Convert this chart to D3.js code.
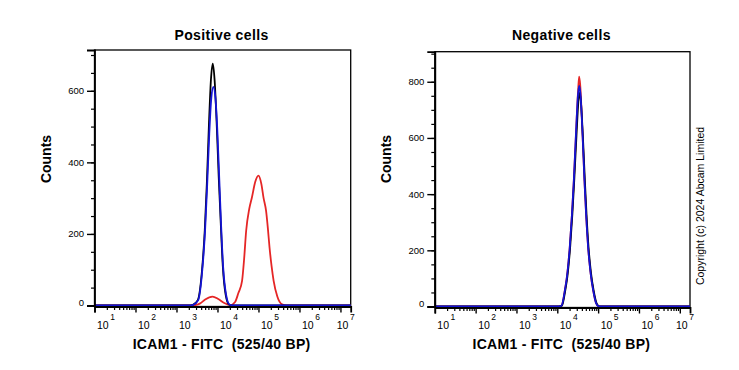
<!DOCTYPE html>
<html>
<head>
<meta charset="utf-8">
<script src="https://cdn.jsdelivr.net/npm/d3@7"></script>
<style>
  body { margin: 0; background: #fff; }
  svg { display: block; font-family: Arial, "Liberation Sans", sans-serif; }
</style>
</head>
<body>
<div id="chart"></div>
<script>
// histogram traces: fluorescence in decades (log10) and event counts
// Positive cells
var posBlackLog   = [1.0, 3.30, 3.40, 3.52, 3.62, 3.69, 3.74, 3.79, 3.84, 3.885, 3.93, 3.98, 4.03, 4.08, 4.13, 4.20, 4.28, 4.38, 7.25];
var posBlackCount = [0,   0,    2,    15,   95,   210,  340,  500,  630,  676,   630,  510,  360,  230,  110,  30,   3,    0,    0];

var posBlueLog    = [1.0, 3.30, 3.41, 3.53, 3.63, 3.70, 3.75, 3.80, 3.85, 3.90, 3.95, 4.00, 4.045, 4.09, 4.14, 4.21, 4.29, 4.39, 7.25];
var posBlueCount  = [0,   0,    2,    15,   100,  215,  340,  480,  580,  611,  580,  480,  350,   220,  105,  30,   3,    0,    0];

var posRedLog     = [1.0, 3.40, 3.46, 3.58, 3.70, 3.88, 4.02, 4.165, 4.31, 4.43, 4.51, 4.60, 4.65, 4.70, 4.775, 4.84, 4.92, 5.00, 5.07, 5.125, 5.185, 5.23, 5.27, 5.32, 5.37, 5.46, 5.575, 5.68, 7.25];
var posRedCount   = [0,   0,    1,    6,    17,   25,   18,   7,     1,    10,   35,   69,   130,  209,  270,   302,  345,  363,  340,  300,   265,   215,  162,  110,  69,   25,   3,     0,    0];

// Negative cells
var negRedLog     = [1.0, 4.00, 4.07, 4.105, 4.185, 4.24, 4.305, 4.36, 4.405, 4.46, 4.51, 4.535, 4.56, 4.61, 4.665, 4.705, 4.755, 4.815, 4.88, 4.95, 5.00, 5.05, 7.25];
var negRedCount   = [0,   0,    1,    3,     57,    110,  211,   330,  449,   620,  770,  818,   790,  640,  449,   330,   211,   120,   57,   12,   2,    0,    0];

var negBlackLog   = [1.0, 4.00, 4.08, 4.115, 4.195, 4.25, 4.315, 4.37, 4.415, 4.47, 4.52, 4.55, 4.575, 4.625, 4.675, 4.715, 4.765, 4.825, 4.89, 4.96, 5.01, 5.06, 7.25];
var negBlackCount = [0,   0,    1,    3,     57,    110,  211,   330,  449,   610,  735,  760,   735,  610,  449,   330,   211,   120,   57,   12,   2,    0,    0];

var negBlueLog    = [1.0, 4.00, 4.07, 4.105, 4.185, 4.24, 4.305, 4.36, 4.405, 4.46, 4.51, 4.54, 4.565, 4.615, 4.665, 4.705, 4.755, 4.815, 4.88, 4.95, 5.00, 5.05, 7.25];
var negBlueCount  = [0,   0,    1,    3,     57,    110,  211,   330,  449,   625,  760,  785,   760,  625,  449,   330,   211,   120,   57,   12,   2,    0,    0];

var decades = [1, 2, 3, 4, 5, 6, 7];
var posYTicks = [0, 200, 400, 600];
var negYTicks = [0, 200, 400, 600, 800];

var titles = ["Positive cells", "Negative cells"];
var xTitle = "ICAM1 - FITC  (525/40 BP)";
var yTitle = "Counts";
var copyright = "Copyright (c) 2024 Abcam Limited";

var width = 739, height = 370;

var svg = d3.select("#chart").append("svg")
    .attr("width", width)
    .attr("height", height);

var red = "#e52626", blue = "#1414d6", black = "#000000";

var panels = [
  {
    title: titles[0], left: 94.5, right: 350.7, top: 50, zero: 305.5, yMax: 714, yTicks: posYTicks,
    traces: [
      { log: posRedLog, count: posRedCount, color: red },
      { log: posBlackLog, count: posBlackCount, color: black },
      { log: posBlueLog, count: posBlueCount, color: blue }
    ]
  },
  {
    title: titles[1], left: 434.8, right: 690, top: 51.7, zero: 306.5, yMax: 907, yTicks: negYTicks,
    traces: [
      { log: negRedLog, count: negRedCount, color: red },
      { log: negBlackLog, count: negBlackCount, color: black },
      { log: negBlueLog, count: negBlueCount, color: blue }
    ]
  }
];

panels.forEach(function(p) {
  var x = d3.scaleLog()
      .domain([10, Math.pow(10, 7.25)])
      .range([p.left, p.right]);
  var y = d3.scaleLinear()
      .domain([0, p.yMax])
      .range([p.zero, p.top]);

  var g = svg.append("g");
  var bottom = p.zero + 1;

  // frame
  g.append("rect")
      .attr("x", p.left)
      .attr("y", p.top)
      .attr("width", p.right - p.left)
      .attr("height", bottom - p.top)
      .attr("fill", "none")
      .attr("stroke", "#000")
      .attr("stroke-width", 1.3);

  // histograms
  var line = d3.line()
      .x(function(d) { return x(Math.pow(10, d[0])); })
      .y(function(d) { return y(d[1]); })
      .curve(d3.curveMonotoneX);

  p.traces.forEach(function(t) {
    var pts = t.log.map(function(v, i) { return [v, t.count[i]]; });
    g.append("path")
        .datum(pts)
        .attr("d", line)
        .attr("fill", "none")
        .attr("stroke", t.color)
        .attr("stroke-width", 1.8)
        .attr("stroke-linejoin", "round");
  });

  // y axis: major + minor ticks
  var minorY = d3.range(0, p.yMax, 50);
  g.append("g")
      .attr("transform", "translate(" + p.left + ",0)")
      .call(d3.axisLeft(y).tickValues(minorY).tickSize(3.5).tickFormat(""))
      .call(function(a) { a.select(".domain").remove(); a.selectAll("line").attr("stroke-width", 1.2); });

  var yAxis = g.append("g")
      .attr("transform", "translate(" + p.left + ",0)")
      .call(d3.axisLeft(y).tickValues(p.yTicks).tickSize(7.5).tickPadding(3).tickFormat(d3.format("d")));
  yAxis.select(".domain").attr("stroke-width", 1.8);
  yAxis.selectAll("line").attr("stroke-width", 1.4);
  yAxis.selectAll("text")
      .style("font-size", "9.5px")
      .attr("fill", "#000")
      .attr("dy", function(d) { return d === 0 ? "-0.05em" : "0.32em"; });

  // x axis: decades + log minor ticks
  var minorX = [];
  decades.forEach(function(d) {
    if (d < 7) {
      for (var k = 2; k <= 9; k++) minorX.push(k * Math.pow(10, d));
    }
  });
  g.append("g")
      .attr("transform", "translate(0," + bottom + ")")
      .call(d3.axisBottom(x).tickValues(minorX).tickSize(3.5).tickFormat(""))
      .call(function(a) { a.select(".domain").remove(); a.selectAll("line").attr("stroke-width", 1.2); });

  var xAxis = g.append("g")
      .attr("transform", "translate(0," + bottom + ")")
      .call(d3.axisBottom(x).tickValues(decades.map(function(d) { return Math.pow(10, d); })).tickSize(6).tickFormat(""));
  xAxis.select(".domain").attr("stroke-width", 1.8);
  xAxis.selectAll("line").attr("stroke-width", 1.4);

  decades.forEach(function(d) {
    var tx = Math.min(x(Math.pow(10, d)) + 2.5, p.right - 14);
    var lab = g.append("text")
        .attr("x", tx)
        .attr("y", 328.5)
        .style("font-size", "10.5px");
    lab.append("tspan").text("10");
    lab.append("tspan")
        .attr("dx", 1.5)
        .attr("dy", -8.5)
        .style("font-size", "8.5px")
        .text(d);
  });

  var cx = (p.left + p.right) / 2;

  g.append("text")
      .attr("x", cx - 1)
      .attr("y", 40)
      .attr("text-anchor", "middle")
      .style("font-size", "14px")
      .style("font-weight", "bold")
      .style("letter-spacing", "0.4px")
      .text(p.title);

  g.append("text")
      .attr("x", cx - 1)
      .attr("y", 348.5)
      .attr("text-anchor", "middle")
      .style("font-size", "14px")
      .style("font-weight", "bold")
      .style("letter-spacing", "0.3px")
      .style("white-space", "pre")
      .text(xTitle);

  g.append("text")
      .attr("transform", "translate(" + (p.left - 44) + ",159) rotate(-90)")
      .attr("text-anchor", "middle")
      .style("font-size", "14px")
      .style("font-weight", "bold")
      .text(yTitle);
});

svg.append("text")
    .attr("transform", "translate(704,206) rotate(-90)")
    .attr("text-anchor", "middle")
    .style("font-size", "10.5px")
    .text(copyright);
</script>
</body>
</html>
